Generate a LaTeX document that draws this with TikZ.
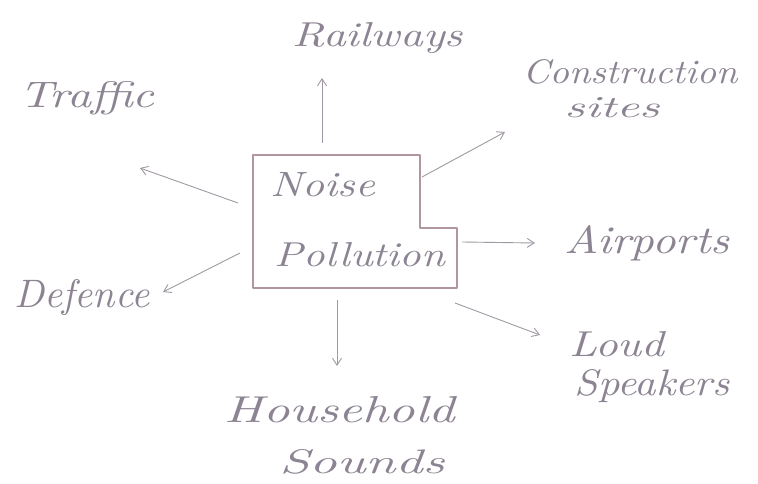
\documentclass[tikz,border=0pt]{standalone}
\usetikzlibrary{arrows.meta}
\definecolor{ink}{RGB}{140,132,146}
\definecolor{lineink}{RGB}{160,152,162}
\definecolor{boxink}{RGB}{178,150,158}
% hand-lettered label: fixed width and height
\newcommand{\handtext}[3]{\resizebox{#1pt}{#2pt}{\itshape #3}}
\tikzset{
  word/.style={inner sep=0pt, text=ink},
  flow/.style={draw=lineink, line width=0.9pt, -{Straight Barb[length=7pt,width=9pt]}},
  outline/.style={draw=boxink, line width=1.1pt, line join=round}
}
\begin{document}
\begin{tikzpicture}[x=1pt,y=-1pt]
\useasboundingbox (0,0) rectangle (758,484);
% stepped outline around the centre words
\draw[outline] (253,155) -- (420,155) -- (420,228) -- (457,228) -- (457,288) -- (253,288) -- cycle;
\node[word] (noise) at (323,185) {\handtext{105}{24}{Noise}};
\node[word] (pollution) at (360,255) {\handtext{170}{24}{Pollution}};
% sources
\node[word] (rail) at (378,38) {\handtext{170}{24}{Railways}};
\node[word] (cons) at (630,72) {\handtext{215}{24}{Construction}};
\node[word] (sites) at (612,108) {\handtext{95}{20}{sites}};
\node[word] (traffic) at (87,98) {\handtext{135}{26}{Traffic}};
\node[word] (air) at (647,243) {\handtext{165}{28}{Airports}};
\node[word] (loud) at (617,344) {\handtext{95}{25}{Loud}};
\node[word] (speak) at (652,386) {\handtext{155}{26}{Speakers}};
\node[word] (house) at (340,410) {\handtext{230}{26}{Household}};
\node[word] (sounds) at (362,462) {\handtext{165}{24}{Sounds}};
\node[word] (def) at (82,298) {\handtext{135}{28}{Defence}};
% arrow anchors on the outline
\coordinate (sRail) at (322,143);  \coordinate (eRail) at (322,78);
\coordinate (sCons) at (422,177);  \coordinate (eCons) at (505,132);
\coordinate (sTraf) at (238,203);  \coordinate (eTraf) at (140,168);
\coordinate (sAir)  at (462,242);  \coordinate (eAir)  at (535,243);
\coordinate (sLoud) at (455,303);  \coordinate (eLoud) at (540,335);
\coordinate (sHouse) at (337,300); \coordinate (eHouse) at (337,366);
\coordinate (sDef)  at (240,253);  \coordinate (eDef)  at (163,292);
\draw[flow] (sRail) -- (eRail);
\draw[flow] (sCons) -- (eCons);
\draw[flow] (sTraf) -- (eTraf);
\draw[flow] (sAir) -- (eAir);
\draw[flow] (sLoud) -- (eLoud);
\draw[flow] (sHouse) -- (eHouse);
\draw[flow] (sDef) -- (eDef);
\end{tikzpicture}
\end{document}
